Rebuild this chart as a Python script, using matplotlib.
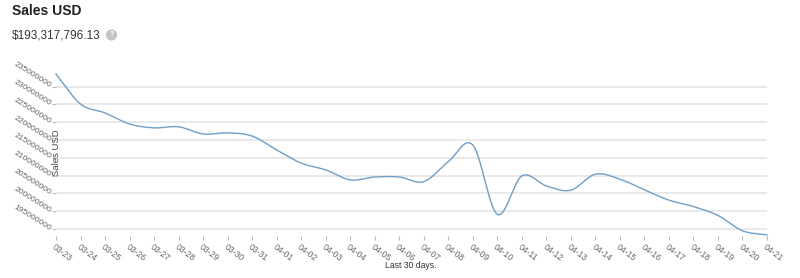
# daily sales, last 30 days

import numpy as np
import matplotlib.pyplot as plt

plt.rcParams['font.family'] = ['Liberation Sans', 'DejaVu Sans']

# dates shown on the x axis
dates = ['03-23', '03-24', '03-25', '03-26', '03-27', '03-28', '03-29', '03-30',
         '03-31', '04-01', '04-02', '04-03', '04-04', '04-05', '04-06', '04-07',
         '04-08', '04-09', '04-10', '04-11', '04-12', '04-13', '04-14', '04-15',
         '04-16', '04-17', '04-18', '04-19', '04-20', '04-21']
# sales in USD
sales = [238.5e6, 230.1e6, 227.6e6, 224.5e6, 223.4e6, 223.7e6, 221.7e6, 222.0e6,
         221.1e6, 217.2e6, 213.5e6, 211.6e6, 208.8e6, 209.6e6, 209.6e6, 208.3e6,
         213.9e6, 218.6e6, 199.1e6, 209.9e6, 207.1e6, 205.9e6, 210.4e6, 209.0e6,
         206.0e6, 203.1e6, 201.3e6, 198.8e6, 194.5e6, 193317796.13]
yticks = [195e6, 200e6, 205e6, 210e6, 215e6, 220e6, 225e6, 230e6, 235e6]


def smooth(x, y, n=20):
    # catmull-rom style cubic hermite, only for drawing the line
    x = np.asarray(x, float)
    y = np.asarray(y, float)
    m = np.zeros_like(y)
    m[1:-1] = (y[2:] - y[:-2]) / (x[2:] - x[:-2])
    m[0] = (y[1] - y[0]) / (x[1] - x[0])
    m[-1] = (y[-1] - y[-2]) / (x[-1] - x[-2])
    xs, ys = [], []
    for i in range(len(x) - 1):
        h = x[i + 1] - x[i]
        t = np.linspace(0, 1, n, endpoint=False)
        h00 = 2*t**3 - 3*t**2 + 1
        h10 = t**3 - 2*t**2 + t
        h01 = -2*t**3 + 3*t**2
        h11 = t**3 - t**2
        xs.append(x[i] + t*h)
        ys.append(h00*y[i] + h10*h*m[i] + h01*y[i + 1] + h11*h*m[i + 1])
    xs.append([x[-1]])
    ys.append([y[-1]])
    return np.concatenate(xs), np.concatenate(ys)


W, H = 800, 278
fig = plt.figure(figsize=(W/100, H/100), dpi=100)

# plot area in pixels: x 56..767, y 70..236
ax = fig.add_axes([56/W, (H - 236)/H, (767 - 56)/W, 166/H])

x = np.arange(len(dates))
xs, ys = smooth(x, sales)
ax.plot(xs, ys, color='#6f9ec6', lw=1.0, clip_on=False)

ax.set_xlim(0, len(dates) - 1)
ax.set_ylim(193.03e6, 239.66e6)

for v in yticks:
    ax.axhline(v, color='#e9e9e9', lw=1.4, zorder=0)

for s in ax.spines.values():
    s.set_visible(False)

ax.set_yticks(yticks)
ax.set_yticklabels(['%d' % v for v in yticks], rotation=-32, ha='right', va='center',
                   rotation_mode='anchor', fontsize=6.1, color='#666666')
ax.tick_params(axis='y', length=3, width=0.8, color='#bbbbbb', pad=1)

ax.set_xticks(x)
ax.set_xticklabels(dates, rotation=-37, ha='left', va='top', rotation_mode='anchor',
                   fontsize=6.2, color='#666666')
ax.tick_params(axis='x', length=3, width=0.8, color='#bbbbbb', pad=1.5)

# axis titles
fig.text(57/W, 1 - 153/H, 'Sales USD', rotation=90, ha='center', va='center',
         fontsize=6.8, color='#444444')
fig.text(411/W, 1 - 265/H, 'Last 30 days.', ha='center', va='center',
         fontsize=6.2, color='#333333')

# header
fig.text(12/W, 1 - 11/H, 'Sales USD', ha='left', va='center', fontsize=10,
         fontweight='bold', color='#222222')
fig.text(12/W, 1 - 35/H, '$193,317,796.13', ha='left', va='center', fontsize=8.5,
         color='#333333')
fig.text(111.5/W, 1 - 35/H, '?', ha='center', va='center', fontsize=5, color='white',
         fontweight='bold',
         bbox=dict(boxstyle='circle,pad=0.3', fc='#c4c4c4', ec='none'))

fig.savefig('out.png', dpi=100)
